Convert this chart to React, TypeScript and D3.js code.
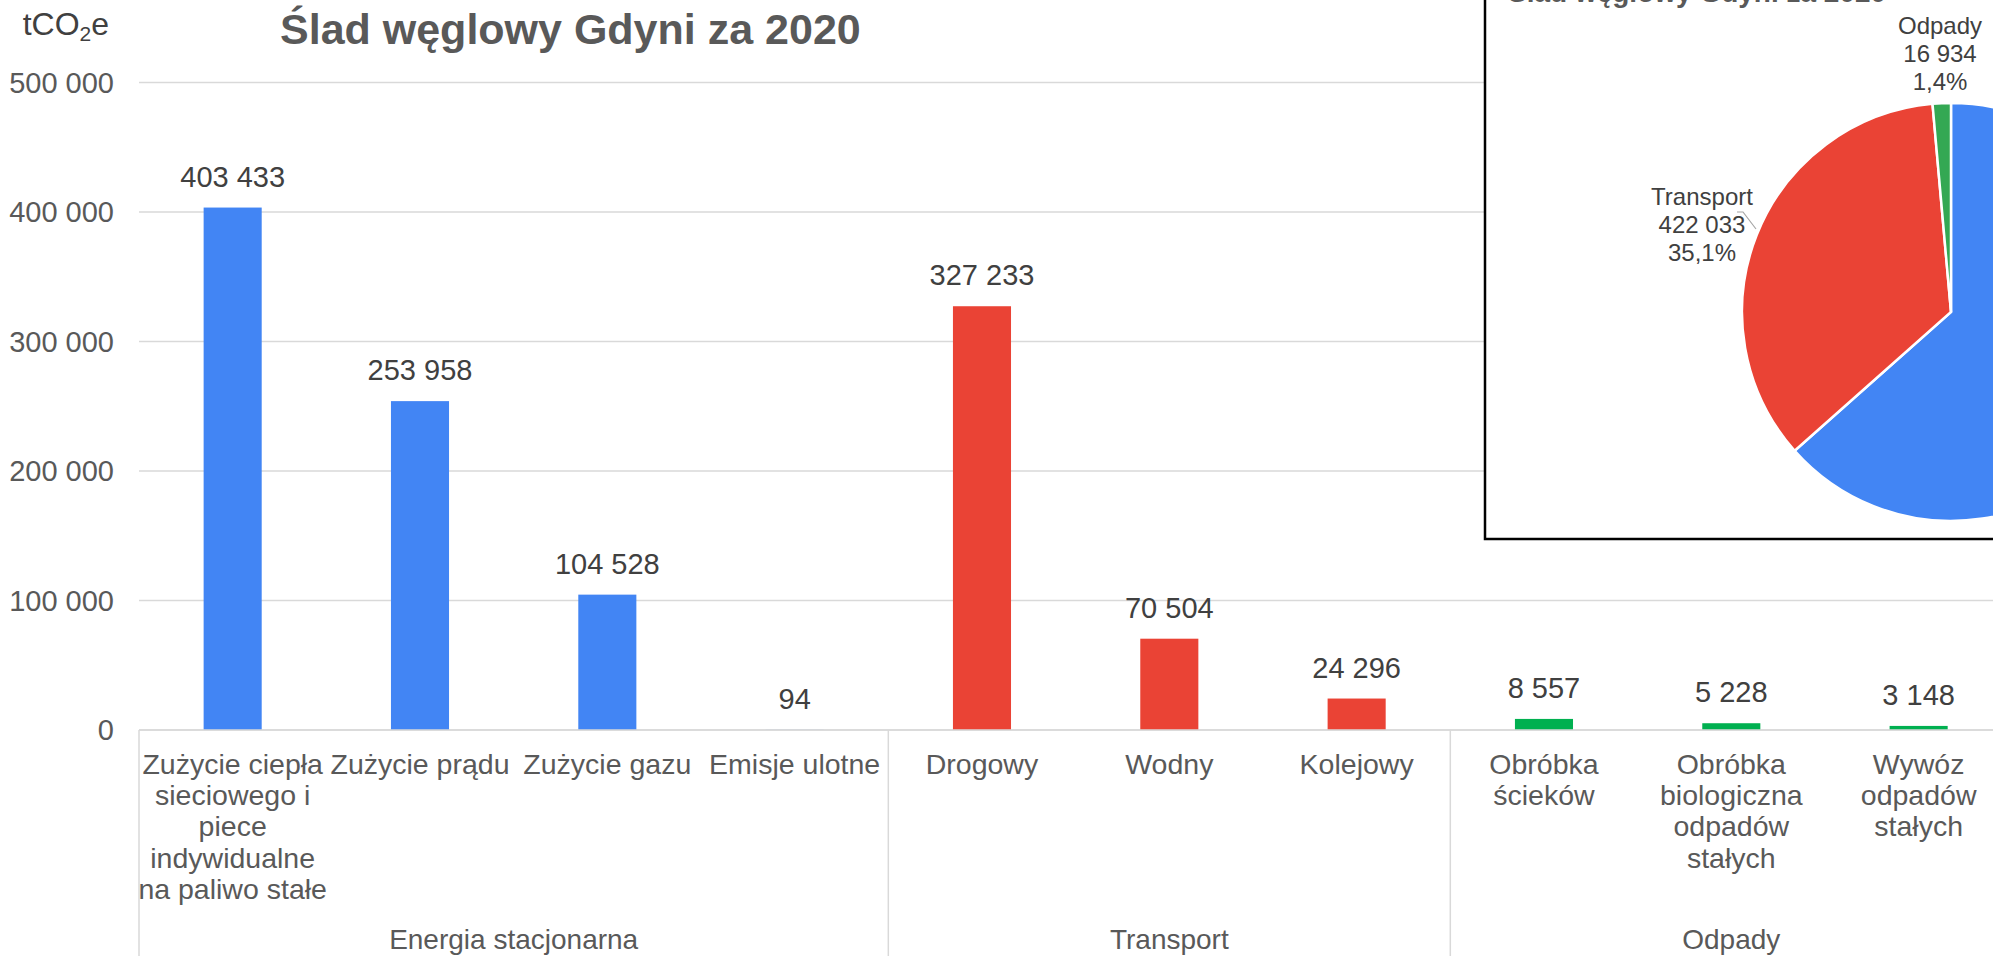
import React, { useEffect } from "react";
import * as d3 from "d3";

const categories = [
  "Zużycie ciepła\nsieciowego i\npiece\nindywidualne\nna paliwo stałe",
  "Zużycie prądu",
  "Zużycie gazu",
  "Emisje ulotne",
  "Drogowy",
  "Wodny",
  "Kolejowy",
  "Obróbka\nścieków",
  "Obróbka\nbiologiczna\nodpadów\nstałych",
  "Wywóz\nodpadów\nstałych",
];
const values = [403433, 253958, 104528, 94, 327233, 70504, 24296, 8557, 5228, 3148];
const categoryGroup = [0, 0, 0, 0, 1, 1, 1, 2, 2, 2];
const groups = ["Energia stacjonarna", "Transport", "Odpady"];
const groupSizes = [4, 3, 3];
const barColors = ["#4285F4", "#EA4335", "#00B050"];
const yTicks = [0, 100000, 200000, 300000, 400000, 500000];

const pieLabels = ["Energia stacjonarna", "Transport", "Odpady"];
const pieValues = [762013, 422033, 16934];
const pieColors = ["#4285F4", "#EA4335", "#34A853"];

const title = "Ślad węglowy Gdyni za 2020";
const FONT = "'Liberation Sans', Arial, sans-serif";

const fmtNum = (v: number) => d3.format(",")(v).replace(/,/g, " ");
const fmtPct = (v: number) => d3.format(".1%")(v).replace(".", ",");

export default function App() {
  useEffect(() => {
    document.body.style.margin = "0";
    document.body.style.overflow = "hidden";
  }, []);

  const W = 1993;
  const H = 956;
  const left = 139;
  const step = 187.33;
  const right = left + step * categories.length;
  const x = d3
    .scaleBand<number>()
    .domain(d3.range(categories.length))
    .range([left, right])
    .paddingInner(0.69)
    .paddingOuter(0.345);
  const y = d3.scaleLinear().domain([0, 500000]).range([730, 82.5]);

  // group boundaries
  const bounds: number[] = [left];
  let acc = 0;
  groupSizes.forEach((s) => {
    acc += s;
    bounds.push(left + step * acc);
  });

  // pie
  const cx = 1951;
  const cy = 312;
  const r = 209;
  const pie = d3.pie<number>().sort(null).value((d) => d)(pieValues);
  const arc = d3.arc<d3.PieArcDatum<number>>().innerRadius(0).outerRadius(r);
  const total = d3.sum(pieValues);

  return (
    <svg width={W} height={H} style={{ display: "block", position: "absolute", left: 0, top: 0 }} fontFamily={FONT}>
      <rect x={0} y={0} width={W} height={H} fill="#ffffff" />
      {/* gridlines */}
      {yTicks.map((t) => (
        <line key={t} x1={left} x2={W} y1={y(t)} y2={y(t)} stroke="#d9d9d9" strokeWidth={1.5} />
      ))}
      {/* y tick labels */}
      {yTicks.map((t) => (
        <text key={"l" + t} x={114} y={y(t) + 10} textAnchor="end" fontSize={29} fill="#595959">
          {fmtNum(t)}
        </text>
      ))}
      {/* unit label */}
      <text x={109} y={35} textAnchor="end" fontSize={32} fill="#404040">
        tCO<tspan fontSize={21} dy={6}>2</tspan>
        <tspan dy={-6}>e</tspan>
      </text>
      {/* title */}
      <text x={280} y={44} fontSize={43} fontWeight="bold" fill="#595959">
        {title}
      </text>
      {/* bars */}
      {values.map((v, i) => (
        <rect
          key={i}
          x={x(i)}
          y={y(v)}
          width={x.bandwidth()}
          height={y(0) - y(v)}
          fill={barColors[categoryGroup[i]]}
        />
      ))}
      {/* data labels */}
      {values.map((v, i) => (
        <text
          key={"d" + i}
          x={(x(i) as number) + x.bandwidth() / 2}
          y={y(v) - 21}
          textAnchor="middle"
          fontSize={29}
          fill="#404040"
        >
          {fmtNum(v)}
        </text>
      ))}
      {/* axis line and separators */}
      <line x1={left} x2={W} y1={y(0)} y2={y(0)} stroke="#d9d9d9" strokeWidth={1.5} />
      {bounds.map((b, i) => (
        <line key={"s" + i} x1={b} x2={b} y1={y(0)} y2={H} stroke="#d9d9d9" strokeWidth={1.5} />
      ))}
      {/* category labels */}
      {categories.map((c, i) => (
        <text
          key={"c" + i}
          x={(x(i) as number) + x.bandwidth() / 2}
          y={774}
          textAnchor="middle"
          fontSize={28.5}
          fill="#595959"
        >
          {c.split("\n").map((line, j) => (
            <tspan key={j} x={(x(i) as number) + x.bandwidth() / 2} y={774 + j * 31.2}>
              {line}
            </tspan>
          ))}
        </text>
      ))}
      {/* group labels */}
      {groups.map((g, i) => (
        <text key={"g" + i} x={(bounds[i] + bounds[i + 1]) / 2} y={949} textAnchor="middle" fontSize={28} fill="#595959">
          {g}
        </text>
      ))}

      {/* pie inset */}
      <rect x={1485} y={-10} width={600} height={549} fill="#ffffff" stroke="#000000" strokeWidth={2.5} />
      <text x={1508} y={2} fontSize={28} fontWeight="bold" fill="#595959">
        {title}
      </text>
      <g transform={`translate(${cx},${cy})`}>
        {pie.map((p, i) => (
          <path key={"p" + i} d={arc(p) as string} fill={pieColors[i]} stroke="#ffffff" strokeWidth={2.5} />
        ))}
      </g>
      {/* pie labels */}
      <polyline points="1737,212 1743,212 1756,229" fill="none" stroke="#a6a6a6" strokeWidth={1.2} />
      <text x={1702} textAnchor="middle" fontSize={24} fill="#404040">
        <tspan x={1702} y={205}>{pieLabels[1]}</tspan>
        <tspan x={1702} y={233}>{fmtNum(pieValues[1])}</tspan>
        <tspan x={1702} y={261}>{fmtPct(pieValues[1] / total)}</tspan>
      </text>
      <text x={1940} textAnchor="middle" fontSize={24} fill="#404040">
        <tspan x={1940} y={34}>{pieLabels[2]}</tspan>
        <tspan x={1940} y={62}>{fmtNum(pieValues[2])}</tspan>
        <tspan x={1940} y={90}>{fmtPct(pieValues[2] / total)}</tspan>
      </text>
    </svg>
  );
}
